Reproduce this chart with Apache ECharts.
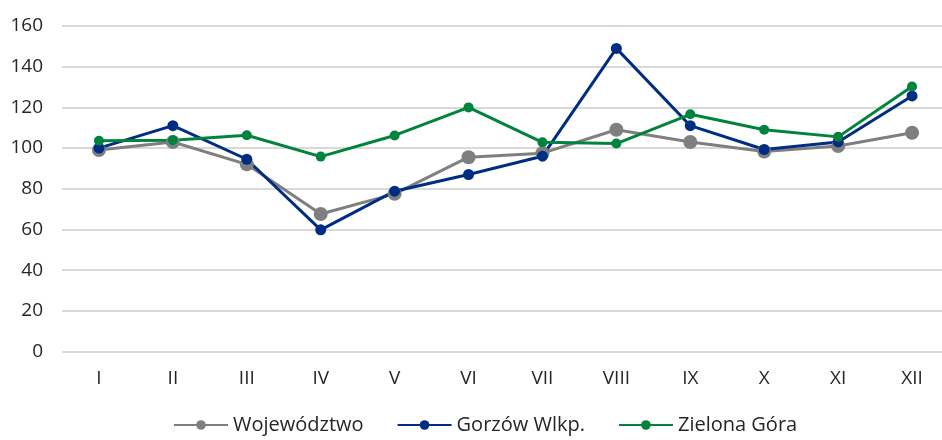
<!DOCTYPE html>
<html>
<head>
<meta charset="utf-8">
<script src="https://cdn.jsdelivr.net/npm/echarts@6/dist/echarts.min.js"></script>
<style>
  html, body { margin: 0; padding: 0; background: #fff; }
  #chart { width: 942px; height: 440px; }
</style>
</head>
<body>
<div id="chart"></div>
<script>
var months = ['I', 'II', 'III', 'IV', 'V', 'VI', 'VII', 'VIII', 'IX', 'X', 'XI', 'XII'];
var wojewodztwo = [99, 103, 92, 67.6, 77.5, 95.5, 97.5, 109, 103, 98.3, 101, 107.5];
var gorzow = [100, 111, 94.5, 59.8, 78.8, 87, 96, 149, 111, 99.3, 103, 125.6];
var zielona = [103.6, 103.8, 106.3, 95.8, 106.2, 120, 102.8, 102.2, 116.6, 109, 105.5, 130.3];
var yTicks = { min: 0, max: 160, interval: 20 };

var font = '"Open Sans", sans-serif';
var chart = echarts.init(document.getElementById('chart'));

function line(name, data, color, size) {
    return {
        name: name,
        type: 'line',
        data: data,
        symbol: 'circle',
        symbolSize: size,
        lineStyle: { color: color, width: 3 },
        itemStyle: { color: color },
        animation: false
    };
}

var option = {
    backgroundColor: '#fff',
    textStyle: { fontFamily: font },
    grid: { left: 62, top: 26, width: 887, height: 325.5, outerBoundsMode: 'none', containLabel: false },
    legend: {
        top: 415,
        left: 173,
        padding: 0,
        itemWidth: 54,
        itemHeight: 12,
        itemGap: 33,
        textStyle: { color: '#262626', fontSize: 20, fontFamily: font },
        data: ['Województwo', 'Gorzów Wlkp.', 'Zielona Góra']
    },
    xAxis: {
        type: 'category',
        data: months,
        boundaryGap: true,
        axisLine: { show: false },
        axisTick: { show: false },
        axisLabel: { color: '#262626', fontSize: 19, margin: 18, fontFamily: font }
    },
    yAxis: {
        type: 'value',
        min: yTicks.min,
        max: yTicks.max,
        interval: yTicks.interval,
        axisLine: { show: false },
        axisTick: { show: false },
        axisLabel: { color: '#262626', fontSize: 19, margin: 19, fontFamily: font },
        splitLine: { lineStyle: { color: '#d9d9d9', width: 2 } }
    },
    series: [
        line('Województwo', wojewodztwo, '#7f7f7f', 14),
        line('Gorzów Wlkp.', gorzow, '#002d84', 11),
        line('Zielona Góra', zielona, '#00843d', 10)
    ]
};

chart.setOption(option);
</script>
</body>
</html>
